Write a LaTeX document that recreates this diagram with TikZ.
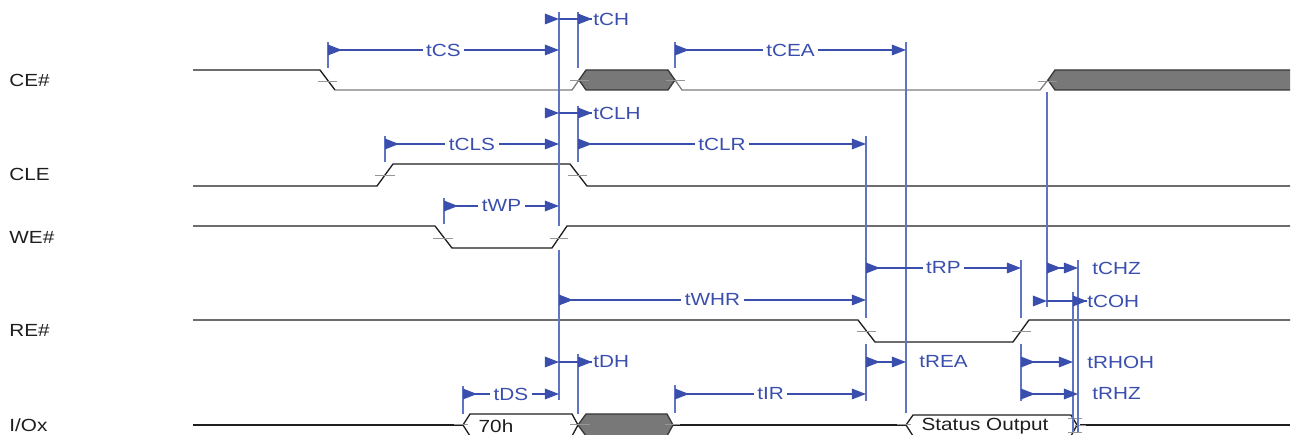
\documentclass[tikz,border=0pt]{standalone}
\usepackage{fontspec}
\newfontfamily\lblfont[FakeStretch=1.18]{Liberation Sans}
\usepackage{tikz}
\usetikzlibrary{arrows.meta}
\definecolor{tblue}{RGB}{58,78,174}
\definecolor{mblue}{RGB}{96,116,196}
\definecolor{sigline}{RGB}{30,30,30}
\definecolor{lowgray}{RGB}{125,125,125}
\definecolor{xfill}{RGB}{120,120,120}
\definecolor{xedge}{RGB}{55,55,55}
\definecolor{tickgray}{RGB}{150,150,150}
\tikzset{
  signal/.style={line width=0.75pt,sigline},
  lowsig/.style={line width=0.75pt,lowgray},
  tick/.style={line width=0.5pt,tickgray},
  xbox/.style={line width=0.75pt,draw=xedge,fill=xfill},
  bus/.style={line width=0.75pt,sigline},
  marker/.style={line width=0.8pt,mblue},
  timing/.style={line width=0.8pt,tblue,{Triangle[length=8pt,width=6pt,reversed]}-{Triangle[length=8pt,width=6pt]}},
  tipin/.style={line width=0.8pt,tblue,-{Triangle[length=8pt,width=6pt]}},
  tipout/.style={line width=0.8pt,tblue,{Triangle[length=8pt,width=6pt,reversed]}-},
  dimline/.style={line width=0.8pt,tblue},
  tlabel/.style={fill=white,text=tblue,font=\lblfont\fontsize{10}{12}\selectfont,inner xsep=2pt,inner ysep=1pt},
  tname/.style={anchor=west,text=tblue,font=\lblfont\fontsize{10}{12}\selectfont,inner sep=0pt},
  sname/.style={anchor=west,text=sigline,font=\lblfont\fontsize{10}{12}\selectfont,inner sep=0pt},
  busname/.style={text=sigline,font=\lblfont\fontsize{10}{12}\selectfont,inner sep=0pt}
}

\begin{document}
\begin{tikzpicture}[x=0.02cm,y=-0.02cm]
    \useasboundingbox (0,0) rectangle (1296,435);
    % signal names
    \node[sname] (nCE) at (9,80) {CE\#};
    \node[sname] (nCLE) at (9,174) {CLE};
    \node[sname] (nWE) at (9,237) {WE\#};
    \node[sname] (nRE) at (9,330) {RE\#};
    \node[sname] (nIO) at (9,425) {I/Ox};
    % waveforms
    \draw[signal] (193,70) -- (320,70) -- (335,90);
    \draw[lowsig] (335,90) -- (572,90) -- (579,80);
    \draw[lowsig] (675,80) -- (682,90) -- (1040,90) -- (1048,80);
    \filldraw[xbox] (579,80) -- (586,70) -- (668,70) -- (675,80) -- (668,90) -- (586,90) -- cycle;
    \filldraw[xbox] (1290,70) -- (1055,70) -- (1048,80) -- (1055,90) -- (1290,90);
    \draw[signal] (193,186) -- (377,186) -- (393,164) -- (570,164) -- (587,186) -- (1290,186);
    \draw[signal] (193,226) -- (435,226) -- (452,248) -- (552,248) -- (567,226) -- (1290,226);
    \draw[signal] (193,320) -- (858,320) -- (875,342) -- (1013,342) -- (1029,320) -- (1290,320);
    \draw[signal] (193,425) -- (463,425);
    \draw[bus] (463,425) -- (470,414) -- (572,414) -- (578,425) -- (572,436) -- (470,436) -- cycle;
    \node[busname] (d70) at (496,426) {70h};
    \filldraw[xbox] (578,425) -- (586,414) -- (667,414) -- (673,425) -- (667,436) -- (586,436) -- cycle;
    \draw[signal] (673,425) -- (906,425);
    \draw[bus] (906,425) -- (913,415) -- (1071,415) -- (1077,425) -- (1071,436) -- (913,436) -- cycle;
    \node[busname] (dstat) at (985,426) {Status Output};
    \draw[signal] (1080,425) -- (1290,425);
    % transition ticks
    \draw[tick] (318,81) -- (337,81);
    \draw[tick] (570,80) -- (589,80);
    \draw[tick] (666,80) -- (685,80);
    \draw[tick] (1038,81) -- (1057,81);
    \draw[tick] (375,175) -- (395,175);
    \draw[tick] (568,175) -- (587,175);
    \draw[tick] (433,238) -- (453,238);
    \draw[tick] (550,238) -- (568,238);
    \draw[tick] (857,331) -- (876,331);
    \draw[tick] (1012,331) -- (1031,331);
    \draw[tick] (454,424) -- (468,424);
    \draw[tick] (570,424) -- (590,424);
    \draw[tick] (665,424) -- (680,424);
    \draw[tick] (897,424) -- (911,424);
    \draw[tick] (1068,418) -- (1082,418);
    \draw[tick] (1068,432) -- (1082,432);
    \draw[tick] (1075,425) -- (1086,425);
    % edge markers
    \draw[marker] (328,42) -- (328,68);
    \draw[marker] (559,12) -- (559,226);
    \draw[marker] (559,250) -- (559,400);
    \draw[marker] (578,12) -- (578,68);
    \draw[marker] (578,106) -- (578,162);
    \draw[marker] (578,354) -- (578,414);
    \draw[marker] (385,136) -- (385,162);
    \draw[marker] (444,198) -- (444,224);
    \draw[marker] (675,42) -- (675,68);
    \draw[marker] (675,385) -- (675,413);
    \draw[marker] (906,42) -- (906,413);
    \draw[marker] (866,136) -- (866,318);
    \draw[marker] (866,344) -- (866,401);
    \draw[marker] (1021,260) -- (1021,318);
    \draw[marker] (1021,344) -- (1021,401);
    \draw[marker] (1047,92) -- (1047,307);
    \draw[marker] (1073,292) -- (1073,432);
    \draw[marker] (1078,260) -- (1078,432);
    \draw[marker] (463,386) -- (463,414);
    % timings
    \draw[timing] (328,50) -- (559,50) node[tlabel,midway] (tcs) {tCS};
    \draw[timing] (675,50) -- (906,50) node[tlabel,midway] (tcea) {tCEA};
    \draw[timing] (385,144) -- (559,144) node[tlabel,midway] (tcls) {tCLS};
    \draw[timing] (578,144) -- (866,144) node[tlabel,midway] (tclr) {tCLR};
    \draw[timing] (444,206) -- (559,206) node[tlabel,midway] (twp) {tWP};
    \draw[timing] (866,268) -- (1021,268) node[tlabel,midway] (trp) {tRP};
    \draw[timing] (559,300) -- (866,300) node[tlabel,midway] (twhr) {tWHR};
    \draw[timing] (463,394) -- (559,394) node[tlabel,midway] (tds) {tDS};
    \draw[timing] (675,394) -- (866,394) node[tlabel,midway] (tir) {tIR};
    \draw[timing] (1047,268) -- (1078,268);
    \node[tname] (tchz) at (1092,268) {tCHZ};
    \draw[timing] (866,362) -- (906,362);
    \node[tname] (trea) at (919,362) {tREA};
    \draw[timing] (1021,362) -- (1073,362);
    \node[tname] (trhoh) at (1087,362) {tRHOH};
    \draw[timing] (1021,394) -- (1078,394);
    \node[tname] (trhz) at (1092,394) {tRHZ};
    \draw[tipin] (545,19) -- (559,19);
    \draw[dimline] (559,19) -- (578,19);
    \draw[tipout] (578,19) -- (592,19);
    \node[tname] (tch) at (593,19) {tCH};
    \draw[tipin] (545,113) -- (559,113);
    \draw[dimline] (559,113) -- (578,113);
    \draw[tipout] (578,113) -- (592,113);
    \node[tname] (tclh) at (593,113) {tCLH};
    \draw[tipin] (545,362) -- (559,362);
    \draw[dimline] (559,362) -- (578,362);
    \draw[tipout] (578,362) -- (592,362);
    \node[tname] (tdh) at (593,362) {tDH};
    \draw[tipin] (1033,301) -- (1047,301);
    \draw[dimline] (1047,301) -- (1073,301);
    \draw[tipout] (1073,301) -- (1087,301);
    \node[tname] (tcoh) at (1087,301) {tCOH};
\end{tikzpicture}
\end{document}
